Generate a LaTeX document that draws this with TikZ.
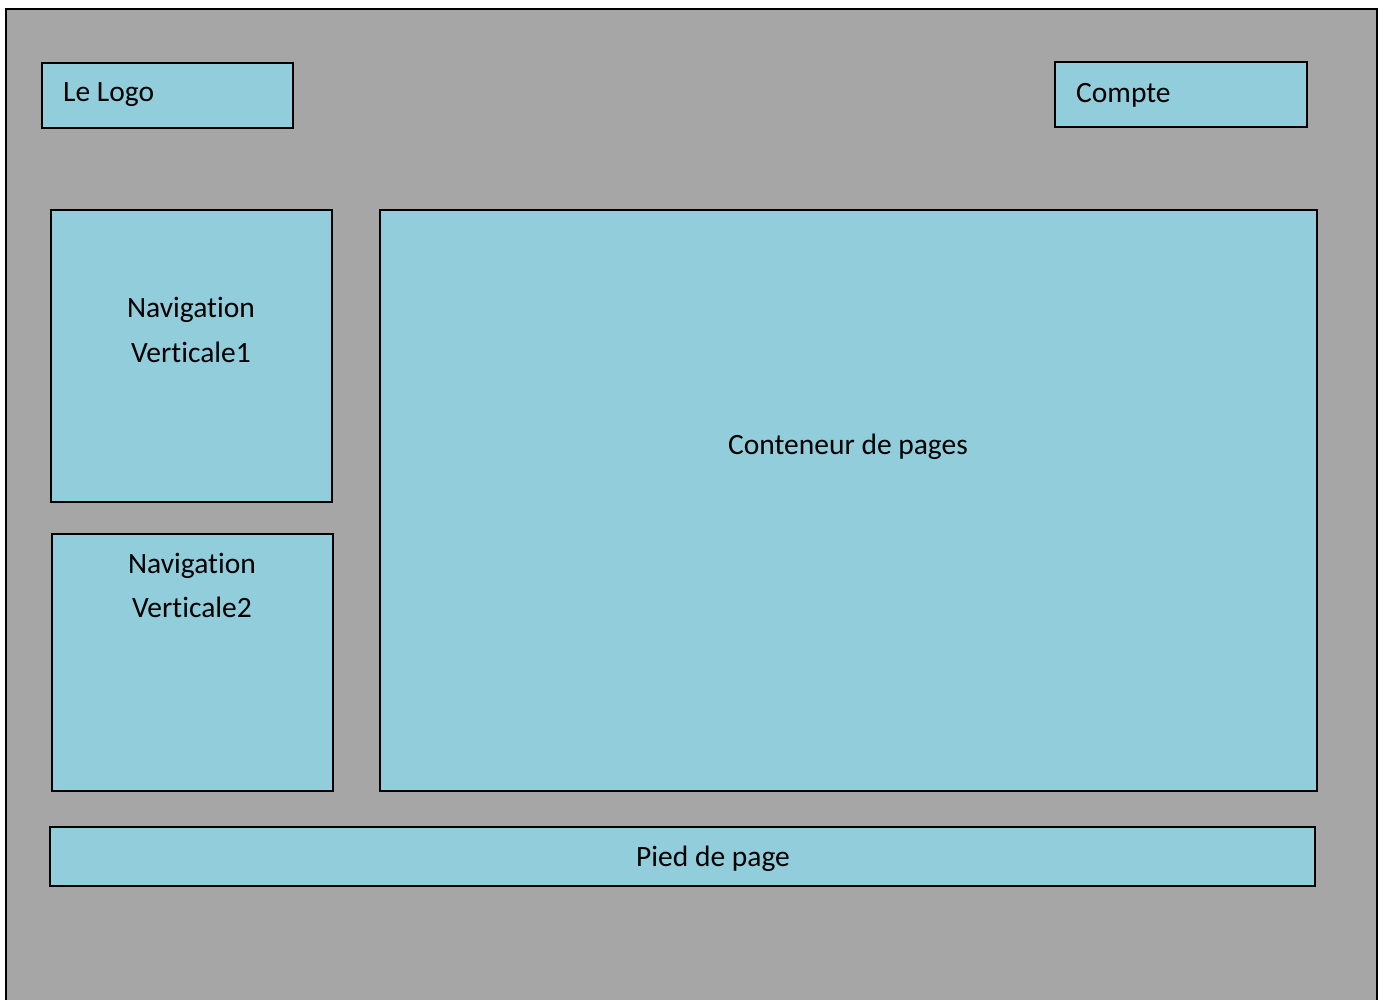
\documentclass[tikz,border=0pt]{standalone}
\usepackage{fontspec}
\setmainfont{Carlito}[Ligatures=NoCommon]
\definecolor{bggray}{HTML}{A6A6A6}
\definecolor{boxblue}{HTML}{92CDDC}
\begin{document}
\begin{tikzpicture}[x=1pt,y=-1pt,
  blk/.style={draw=black,line width=1.8pt,fill=boxblue},
  lbl/.style={font=\fontsize{29.5}{42}\selectfont,text=black,inner sep=0pt}]
\useasboundingbox (0,0) rectangle (1383,999);
\clip (0,0) rectangle (1383,999);
\fill[white] (0,0) rectangle (1383,999);
\draw[fill=bggray,line width=1.8pt] (6,9) rectangle (1377,1010);
\draw[blk] (42,63) rectangle (293,128);
\node[lbl,anchor=west] (logo) at (63,95) {Le Logo};
\draw[blk] (1055,62) rectangle (1307,127);
\node[lbl,anchor=west] (compte) at (1076,95) {Compte};
\draw[blk] (51,210) rectangle (332,502);
\node[lbl] (nav1a) at (191,310) {Navigation};
\node[lbl] (nav1b) at (191,352) {Verticale1};
\draw[blk] (52,534) rectangle (333,791);
\node[lbl] (nav2a) at (192,566) {Navigation};
\node[lbl] (nav2b) at (192,607) {Verticale2};
\draw[blk] (380,210) rectangle (1317,791);
\node[lbl] (cont) at (848,447) {Conteneur de pages};
\draw[blk] (50,827) rectangle (1315,886);
\node[lbl] (pied) at (713,859) {Pied de page};
\end{tikzpicture}
\end{document}
